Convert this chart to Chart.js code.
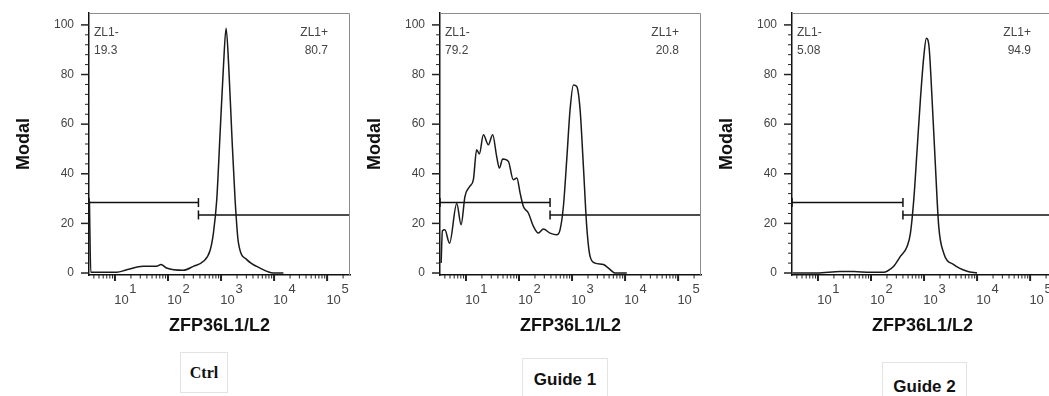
<!DOCTYPE html>
<html>
<head>
<meta charset="utf-8">
<script src="https://cdn.jsdelivr.net/npm/chart.js@4.4.1/dist/chart.umd.min.js"></script>
<style>
  html, body { margin: 0; padding: 0; background: #fff; overflow: hidden; width: 1049px; height: 396px; }
  canvas { position: absolute; top: 0; }
  .cap { position: absolute; box-sizing: border-box; border: 1px solid #e3e3e3; display: flex; align-items: center; justify-content: center; color: #111; }
</style>
</head>
<body>
<canvas id="ctrlChart" width="352" height="345" style="left:0px"></canvas>
<canvas id="guide1Chart" width="352" height="345" style="left:351px"></canvas>
<canvas id="guide2Chart" width="352" height="345" style="left:703px"></canvas>

<div class="cap" style="left:180px;top:352px;width:48px;height:41px;font:bold 16px 'Liberation Serif'">Ctrl</div>
<div class="cap" style="left:522px;top:358px;width:86px;height:44px;font:bold 17px 'Liberation Sans'">Guide 1</div>
<div class="cap" style="left:882px;top:362px;width:85px;height:50px;font:bold 17px 'Liberation Sans'">Guide 2</div>

<script>
// histogram traces (x = ZFP36L1/L2 intensity, y = % of max)
const ctrlX = [3.3, 3.5, 5.2, 10.8, 16.6, 34, 61, 74, 94, 195, 301, 465, 621, 718, 830, 960, 1110, 1245, 1397, 1592, 1840, 2128, 3055, 5450, 9730, 15000];
const ctrlY = [29, 0.3, 0.3, 0.3, 1.3, 2.7, 2.7, 3.4, 2.0, 1.1, 2.7, 4.7, 9.1, 16.1, 29.5, 56.4, 83.2, 98.7, 83.2, 56.4, 29.5, 12.1, 5.4, 2.0, 0, 0];

const guide1X = [3.4, 3.6, 4.0, 4.9, 6.7, 8.1, 9.6, 11.9, 13.8, 15.9, 17.9, 21.3, 26.4, 31.9, 37.9, 42.7, 49.2, 63, 78, 91,
  105, 121, 150, 187, 232, 288, 385, 514, 594, 687, 794, 918, 1062, 1227, 1419, 1637, 1892, 2188, 2716, 3906, 4853, 6486, 10770];
const guide1Y = [4, 17, 17.4, 12, 28, 19.5, 31, 35, 37.6, 49.7, 48, 55.7, 51.7, 55.7, 47, 42.3, 46, 45, 37.6, 38.3,
  32.2, 26.8, 24.2, 18.8, 16.1, 17.7, 16.1, 15.4, 17.4, 26.8, 45.6, 65.8, 75.8, 75.2, 65.8, 43, 18.8, 6.7, 4, 3.4, 2, 0, 0];

const guide2X = [3.3, 9.6, 26.4, 47, 97, 174, 201, 268, 358, 479, 553, 640, 740, 853, 987, 1107, 1245, 1419, 1640, 1892, 2350, 3631, 6486, 10000];
const guide2Y = [0, 0, 0.6, 0.6, 0.3, 0.3, 0.7, 2.7, 6.7, 10.7, 16, 29.5, 49.7, 69.8, 87, 94.6, 91, 69.8, 43, 18.8, 8, 3.4, 0.7, 0];

// gates
const gateSplit = [375, 385, 400];
const negGateY = 28.4;
const posGateY = 23.4;
const negPct = ['19.3', '79.2', '5.08'];
const posPct = ['80.7', '20.8', '94.9'];

// axes
const xMin = 3.24, xMax = 270000;
const xMajor = [10, 100, 1000, 10000, 100000];
const xExp = ['1', '2', '3', '4', '5'];
const yTicks = [0, 4, 8, 12, 16, 20, 24, 28, 32, 36, 40, 44, 48, 52, 56, 60, 64, 68, 72, 76, 80, 84, 88, 92, 96, 100];

const xTicks = [];
[1, 10, 100, 1000, 10000, 100000].forEach(d => {
  for (let m = 1; m <= 9; m++) {
    const v = m * d;
    if (v >= xMin && v <= xMax) xTicks.push(v);
  }
});

const SANS = "'Liberation Sans', Arial, sans-serif";

function noPad(s) {
  s.paddingTop = 0;
  s.paddingBottom = 0;
  s.paddingLeft = 0;
  s.paddingRight = 0;
}

const flowDecor = {
  id: 'flowDecor',
  afterDraw(chart, args, opts) {
    const { ctx, chartArea: a, scales: { x, y } } = chart;
    ctx.save();
    // frame top/right
    ctx.strokeStyle = '#8c8c8c';
    ctx.lineWidth = 1;
    ctx.beginPath();
    ctx.moveTo(a.left, a.top + 0.5);
    ctx.lineTo(a.right - 0.5, a.top + 0.5);
    ctx.lineTo(a.right - 0.5, a.bottom);
    ctx.stroke();

    ctx.strokeStyle = '#222';
    y.ticks.forEach(t => {
      const py = y.getPixelForValue(t.value);
      const major = t.value % 20 === 0;
      ctx.lineWidth = major ? 1.5 : 1;
      ctx.beginPath();
      ctx.moveTo(a.left - (major ? 8 : 4), py);
      ctx.lineTo(a.left, py);
      ctx.stroke();
    });
    x.ticks.forEach(t => {
      const px = x.getPixelForValue(t.value);
      const major = xMajor.includes(t.value);
      ctx.lineWidth = major ? 2 : 1;
      ctx.beginPath();
      ctx.moveTo(px, a.bottom);
      ctx.lineTo(px, a.bottom + (major ? 6 : 3.5));
      ctx.stroke();
    });

    ctx.fillStyle = '#444';
    ctx.font = '13px ' + SANS;
    ctx.textAlign = 'center';
    ctx.textBaseline = 'middle';
    xMajor.forEach((v, i) => {
      const px = x.getPixelForValue(v);
      ctx.fillText('10', px + 6.5, a.bottom + 25);
      ctx.fillText(xExp[i], px + 18, a.bottom + 14);
    });

    ctx.font = '12px ' + SANS;
    ctx.textAlign = 'left';
    ctx.fillText('ZL1-', a.left + 5, a.top + 20);
    ctx.fillText(opts.neg, a.left + 5, a.top + 38);
    ctx.textAlign = 'right';
    ctx.fillText('ZL1+', a.right - 22, a.top + 20);
    ctx.fillText(opts.pos, a.right - 22, a.top + 38);
    ctx.restore();
  }
};

function makePanel(id, xs, ys, idx) {
  const trace = xs.map((v, i) => ({ x: v, y: ys[i] }));
  const split = gateSplit[idx];
  const gateStyle = {
    borderColor: '#111',
    borderWidth: 1.5,
    pointStyle: 'line',
    rotation: 90,
    pointRadius: 4.5,
    pointBorderWidth: 1.5,
    pointBorderColor: '#111',
    fill: false
  };
  return new Chart(document.getElementById(id).getContext('2d'), {
    type: 'line',
    data: {
      datasets: [
        {
          data: trace,
          borderColor: '#1a1a1a',
          borderWidth: 1.5,
          pointRadius: 0,
          cubicInterpolationMode: 'monotone',
          fill: false
        },
        Object.assign({ data: [{ x: xMin, y: negGateY }, { x: split, y: negGateY }] }, gateStyle),
        Object.assign({ data: [{ x: split, y: posGateY }, { x: xMax, y: posGateY }] }, gateStyle)
      ]
    },
    options: {
      responsive: false,
      animation: false,
      devicePixelRatio: 1,
      layout: { autoPadding: false, padding: { top: 13, right: 2, left: 0, bottom: 0 } },
      plugins: {
        legend: { display: false },
        tooltip: { enabled: false },
        flowDecor: { neg: negPct[idx], pos: posPct[idx] }
      },
      scales: {
        x: {
          type: 'logarithmic',
          position: 'bottom',
          min: xMin,
          max: xMax,
          afterBuildTicks: s => { s.ticks = xTicks.map(v => ({ value: v })); },
          afterFit: s => { s.height = 70; noPad(s); },
          ticks: { display: false },
          grid: { display: false, drawTicks: false },
          border: { display: true, color: '#111', width: 1.5 },
          title: {
            display: true,
            text: 'ZFP36L1/L2',
            color: '#111',
            font: { family: SANS, size: 18, weight: 'bold' },
            padding: { top: 0, bottom: 8 }
          }
        },
        y: {
          type: 'linear',
          min: -0.8,
          max: 104.8,
          afterBuildTicks: s => { s.ticks = yTicks.map(v => ({ value: v })); },
          afterFit: s => { s.width = 89; noPad(s); },
          ticks: {
            autoSkip: false,
            padding: 15,
            color: '#444',
            font: { family: SANS, size: 12 },
            callback: v => (v % 20 === 0 ? String(v) : '')
          },
          grid: { display: false, drawTicks: false },
          border: { display: true, color: '#111', width: 1.5 },
          title: {
            display: true,
            text: 'Modal',
            color: '#111',
            font: { family: SANS, size: 18, weight: 'bold' },
            padding: { top: 13, bottom: 0 }
          }
        }
      }
    },
    plugins: [flowDecor]
  });
}

makePanel('ctrlChart', ctrlX, ctrlY, 0);
makePanel('guide1Chart', guide1X, guide1Y, 1);
makePanel('guide2Chart', guide2X, guide2Y, 2);
</script>
</body>
</html>
